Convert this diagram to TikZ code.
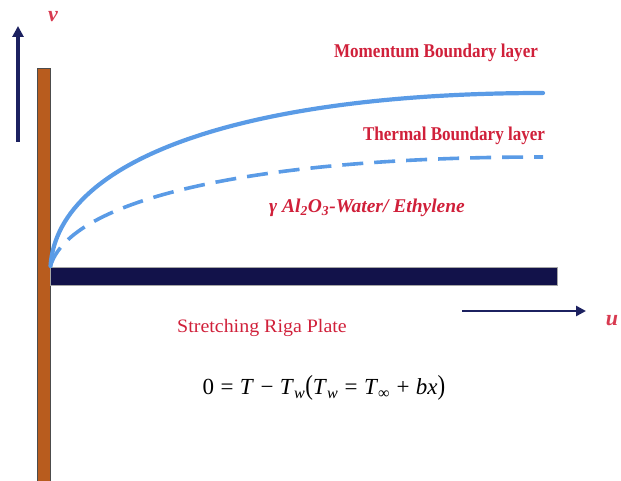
\documentclass[tikz,border=0pt]{standalone}
\usepackage{fontspec}
\setmainfont{Liberation Serif}
\usetikzlibrary{arrows.meta}
\definecolor{txtred}{HTML}{D0203A}
\definecolor{lblred}{HTML}{D83A50}
\definecolor{navy}{HTML}{1C2160}
\definecolor{platecol}{HTML}{12124A}
\definecolor{wallcol}{HTML}{B85C1E}
\definecolor{curvecol}{HTML}{5A9BE6}
\tikzset{
  axisarrow/.style={draw=navy, line width=3.4pt, -{Triangle[length=11pt,width=11pt]}},
  bllabel/.style={text=txtred, inner sep=0pt, font=\fontsize{19.5}{20}\selectfont\bfseries},
  axislabel/.style={text=lblred, inner sep=0pt, font=\fontsize{22}{22}\selectfont\bfseries\itshape},
  solidcurve/.style={draw=curvecol, line width=4.2pt, line cap=round},
  dashcurve/.style={draw=curvecol, line width=3.6pt, dash pattern=on 21pt off 11pt},
}
\begin{document}
\begin{tikzpicture}[x=1pt,y=-1pt]
\useasboundingbox (0,0) rectangle (621,481);
% wall
\draw[fill=wallcol, draw=black!70, line width=0.8pt] (37.5,68.5) rectangle (50.5,485);
% plate
\draw[fill=platecol, draw=gray!70, line width=0.6pt] (50.5,267) rectangle (557,285);
\coordinate (origin) at (50.5,266);
\coordinate (mend) at (543,93);
\coordinate (tend) at (543,157);
% curves
\draw[solidcurve] (origin) .. controls (58,155) and (255,93) .. (mend);
\draw[dashcurve] (origin) .. controls (70,200) and (250,157) .. (tend);
% axes
\coordinate (vstart) at (18,142);
\coordinate (vtip) at (18,26);
\draw[axisarrow] (vstart) -- (vtip);
\node[axislabel] (vlab) at (53,17) {v};
\coordinate (ustart) at (462,311);
\coordinate (utip) at (586,311);
\draw[axisarrow, line width=2.9pt, -{Triangle[length=10pt,width=10pt]}] (ustart) -- (utip);
\node[axislabel] (ulab) at (612,321) {u};
% labels
\node[bllabel] (mom) at (436,53) {\scalebox{0.875}[1]{Momentum Boundary layer}};
\node[bllabel] (therm) at (454,136) {\scalebox{0.875}[1]{Thermal Boundary layer}};
\node[text=txtred, inner sep=0pt, font=\fontsize{19.5}{19.5}\selectfont\bfseries\itshape] (fluid) at (367,208)
  {\scalebox{1.0}[1]{γ Al\textsubscript{2}O\textsubscript{3}-Water/ Ethylene}};
\node[text=txtred, inner sep=0pt, font=\fontsize{19}{19}\selectfont] (plate) at (262,328)
  {\scalebox{1.05}[1]{Stretching Riga Plate}};
\node[text=black, inner sep=0pt, font=\fontsize{23}{23}\selectfont] (eq) at (324,388)
  {0\;=\;\textit{T}\;−\;\textit{T}\textsubscript{\textit{w}}\scalebox{1}[1.2]{(}\textit{T}\textsubscript{\textit{w}}\;=\;\textit{T}\textsubscript{∞}\;+\;\textit{bx}\scalebox{1}[1.2]{)}};
\end{tikzpicture}
\end{document}
